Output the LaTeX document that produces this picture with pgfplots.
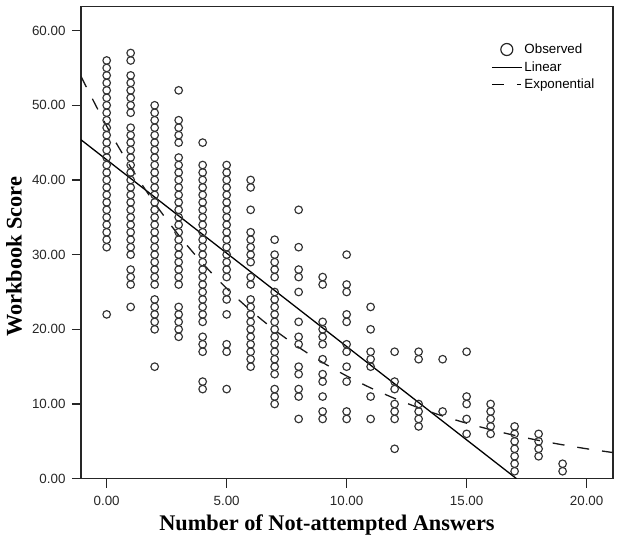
\documentclass[border=0pt]{standalone}
\usepackage{fontspec}
\setmainfont{Liberation Sans}
\newfontfamily\tnr{Liberation Serif}
\usepackage{pgfplots}
\pgfplotsset{compat=1.18}
\usetikzlibrary{calc}

\begin{document}
\begin{tikzpicture}
\begin{axis}[
  scale only axis, width=532bp, height=472bp,
  xmin=-1.07, xmax=21.1, ymin=0, ymax=63.2,
  xtick={0,5,...,20}, ytick={0,10,...,60},
  tick pos=left, tick align=outside, major tick length=9bp,
  axis line style={line width=1.2bp, black!85},
  tick style={line width=1.2bp, black!85},
  /pgf/number format/fixed, /pgf/number format/fixed zerofill,
  /pgf/number format/precision=2, /pgf/number format/assume math mode=true,
  tick label style={font=\fontsize{13.4}{16}\selectfont, black!85},
  xticklabel style={yshift=-5bp},
  yticklabel style={xshift=-3bp},
  xlabel={Number of Not-attempted Answers},
  ylabel={Workbook Score},
  label style={font=\tnr\bfseries\fontsize{22.4}{26}\selectfont},
  xlabel style={at={($(rel axis cs:0.5,0)+(-20bp,-46bp)$)}, anchor=center},
  ylabel style={at={($(rel axis cs:0,0.5)+(-67bp,-14bp)$)}, anchor=center},
  legend style={draw=none, fill=none, at={(rel axis cs:0.765,0.93)},
    anchor=north west, font=\fontsize{13.4}{16}\selectfont, row sep=2.5bp},
  legend cell align=left,
]
% observed scores, one line per number of not-attempted answers
\addplot[only marks, mark=o, mark size=3.8bp,
  mark options={line width=1.15bp, draw=black!80},
  legend image code/.code={\draw[black!85, line width=1.2bp] (15bp,0bp) circle (6bp);}]
coordinates {
(0,56) (0,55) (0,54) (0,53) (0,52) (0,51) (0,50) (0,49) (0,48) (0,47) (0,46) (0,45) (0,44) (0,43) (0,42) (0,41) (0,40) (0,39) (0,38) (0,37) (0,36) (0,35) (0,34) (0,33) (0,32) (0,31) (0,22)
(1,57) (1,56) (1,54) (1,53) (1,52) (1,51) (1,50) (1,49) (1,47) (1,46) (1,45) (1,44) (1,43) (1,42) (1,41) (1,40) (1,39) (1,38) (1,37) (1,36) (1,35) (1,34) (1,33) (1,32) (1,31) (1,30) (1,28) (1,27) (1,26) (1,23)
(2,50) (2,49) (2,48) (2,47) (2,46) (2,45) (2,44) (2,43) (2,42) (2,41) (2,40) (2,39) (2,38) (2,37) (2,36) (2,35) (2,34) (2,33) (2,32) (2,31) (2,30) (2,29) (2,28) (2,27) (2,26) (2,24) (2,23) (2,22) (2,21) (2,20) (2,15)
(3,52) (3,48) (3,47) (3,46) (3,45) (3,43) (3,42) (3,41) (3,40) (3,39) (3,38) (3,37) (3,36) (3,35) (3,34) (3,33) (3,32) (3,31) (3,30) (3,29) (3,28) (3,27) (3,26) (3,23) (3,22) (3,21) (3,20) (3,19)
(4,45) (4,42) (4,41) (4,40) (4,39) (4,38) (4,37) (4,36) (4,35) (4,34) (4,33) (4,32) (4,31) (4,30) (4,29) (4,28) (4,27) (4,26) (4,25) (4,24) (4,23) (4,22) (4,21) (4,19) (4,18) (4,17) (4,13) (4,12)
(5,42) (5,41) (5,40) (5,39) (5,38) (5,37) (5,36) (5,35) (5,34) (5,33) (5,32) (5,31) (5,30) (5,29) (5,28) (5,27) (5,25) (5,24) (5,22) (5,18) (5,17) (5,12)
(6,40) (6,39) (6,36) (6,33) (6,32) (6,31) (6,30) (6,29) (6,27) (6,26) (6,24) (6,23) (6,22) (6,21) (6,20) (6,19) (6,18) (6,17) (6,16) (6,15)
(7,32) (7,30) (7,29) (7,28) (7,27) (7,25) (7,24) (7,23) (7,22) (7,21) (7,20) (7,19) (7,18) (7,17) (7,16) (7,15) (7,14) (7,12) (7,11) (7,10)
(8,36) (8,31) (8,28) (8,27) (8,25) (8,21) (8,19) (8,18) (8,15) (8,14) (8,12) (8,11) (8,8)
(9,27) (9,26) (9,21) (9,20) (9,19) (9,18) (9,16) (9,14) (9,13) (9,11) (9,9) (9,8)
(10,30) (10,26) (10,25) (10,22) (10,21) (10,18) (10,17) (10,15) (10,13) (10,9) (10,8)
(11,23) (11,20) (11,17) (11,16) (11,15) (11,11) (11,8)
(12,17) (12,13) (12,12) (12,10) (12,9) (12,8) (12,4)
(13,17) (13,16) (13,10) (13,9) (13,8) (13,7)
(14,16) (14,9)
(15,17) (15,11) (15,10) (15,8) (15,6)
(16,10) (16,9) (16,8) (16,7) (16,6)
(17,7) (17,6) (17,5) (17,4) (17,3) (17,2) (17,1)
(18,6) (18,5) (18,4) (18,3)
(19,2) (19,1)
};
\addlegendentry{Observed}
\addplot[black, line width=1.3bp,
  legend image code/.code={\draw[black, line width=1.3bp] (0bp,0bp) -- (30bp,0bp);}]
coordinates {(-1.07,45.38) (17.08,0)};
\addlegendentry{Linear}
\addplot[black!90, line width=1.3bp, smooth,
  dash pattern=on 12bp off 13bp,
  legend image code/.code={\draw[black, line width=1.3bp] (0bp,0bp) -- (14bp,0bp);
    \draw[black, line width=1.3bp] (25bp,0bp) -- (29bp,0bp);}]
coordinates {
(-1.07,53.86) (0,47.20) (1,41.72) (2,36.89) (3,32.61) (4,28.83) (5,25.48)
(6,22.53) (7,19.91) (8,17.60) (9,15.56) (10,13.76) (11,12.16) (12,10.75)
(13,9.50) (14,8.40) (15,7.43) (16,6.57) (17,5.80) (18,5.13) (19,4.54)
(20,4.01) (21.1,3.50)
};
\addlegendentry{Exponential}
\end{axis}
\path (current axis.south west) ++(-81bp,-65bp);
\path (current axis.north east) ++(8bp,6.7bp);
\end{tikzpicture}
\end{document}
